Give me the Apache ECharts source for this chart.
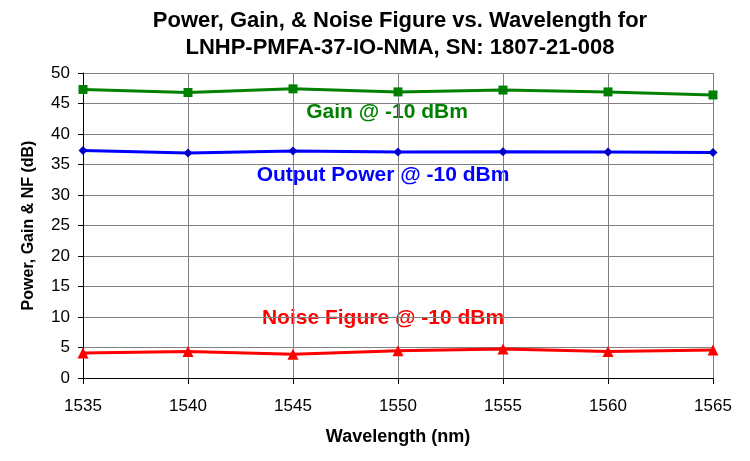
<!DOCTYPE html>
<html><head><meta charset="utf-8">
<script src="https://cdn.jsdelivr.net/npm/echarts@6/dist/echarts.min.js"></script>
<style>html,body{margin:0;padding:0;background:#fff}#c{width:750px;height:461px}</style>
</head><body><div id="c"></div>
<script>
var wavelengths = [1535, 1540, 1545, 1550, 1555, 1560, 1565];
var gain = [47.3, 46.8, 47.4, 46.9, 47.2, 46.9, 46.4];
var outputPower = [37.3, 36.9, 37.2, 37.05, 37.1, 37.05, 36.95];
var noiseFigure = [4.1, 4.35, 3.9, 4.45, 4.75, 4.35, 4.6];
var seriesNames = ['Gain @ -10 dBm', 'Output Power @ -10 dBm', 'Noise Figure @ -10 dBm'];

function pairs(v){ return wavelengths.map(function(x,i){ return [x, v[i]]; }); }
var font = 'Liberation Sans, Arial, sans-serif';
var chart = echarts.init(document.getElementById('c'));
chart.setOption({
  animation: false,
  backgroundColor: '#fff',
  title: [
    {text: 'Power, Gain, & Noise Figure vs. Wavelength for\nLNHP-PMFA-37-IO-NMA, SN: 1807-21-008', left: 395, textAlign: 'center', top: 2,
     textStyle: {fontFamily: font, fontSize: 22, fontWeight: 'bold', color: '#000', lineHeight: 27}}
  ],
  graphic: [
    {type: 'text', style: {text: seriesNames[0], x: 387, y: 112, align: 'center', verticalAlign: 'middle', fill: '#008000', font: 'bold 21px ' + font}},
    {type: 'text', style: {text: seriesNames[1], x: 383, y: 175, align: 'center', verticalAlign: 'middle', fill: '#0000ff', font: 'bold 21px ' + font}},
    {type: 'text', style: {text: seriesNames[2], x: 383, y: 318, align: 'center', verticalAlign: 'middle', fill: '#ff0000', font: 'bold 21px ' + font}}
  ],
  grid: {left: 83, right: 37, top: 73, bottom: 83, containLabel: false},
  xAxis: {
    type: 'value', min: 1535, max: 1565, interval: 5,
    name: 'Wavelength (nm)', nameLocation: 'middle', nameGap: 50,
    nameTextStyle: {fontFamily: font, fontSize: 18, fontWeight: 'bold', color: '#000'},
    axisLine: {show: true, lineStyle: {color: '#000', width: 1}},
    axisTick: {show: true, length: 6, lineStyle: {color: '#000'}},
    axisLabel: {fontFamily: font, fontSize: 17, color: '#000', margin: 20, formatter: function(v){ return String(v); }},
    splitLine: {show: true, lineStyle: {color: '#808080', width: 1}}
  },
  yAxis: {
    type: 'value', min: 0, max: 50, interval: 5,
    name: 'Power, Gain & NF (dB)', nameLocation: 'middle', nameGap: 46, nameRotate: 90,
    nameTextStyle: {fontFamily: font, fontSize: 16, fontWeight: 'bold', color: '#000'},
    axisLine: {show: true, lineStyle: {color: '#000', width: 1}},
    axisTick: {show: true, length: 5, lineStyle: {color: '#000'}},
    axisLabel: {fontFamily: font, fontSize: 17, color: '#000', margin: 13},
    splitLine: {show: true, lineStyle: {color: '#808080', width: 1}}
  },
  series: [
    {name: seriesNames[0], type: 'line', data: pairs(gain), symbol: 'rect', symbolSize: 9,
     lineStyle: {color: '#008000', width: 3}, itemStyle: {color: '#008000'}},
    {name: seriesNames[1], type: 'line', data: pairs(outputPower), symbol: 'diamond', symbolSize: 9,
     lineStyle: {color: '#0000ff', width: 3}, itemStyle: {color: '#0000cc'}},
    {name: seriesNames[2], type: 'line', data: pairs(noiseFigure), symbol: 'triangle', symbolSize: 11,
     lineStyle: {color: '#ff0000', width: 3}, itemStyle: {color: '#ff0000'}}
  ]
});
</script></body></html>
